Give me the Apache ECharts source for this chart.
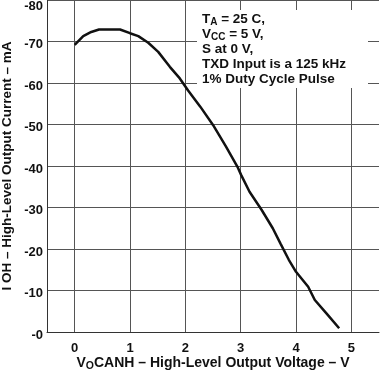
<!DOCTYPE html>
<html><head><meta charset="utf-8">
<script src="https://cdn.jsdelivr.net/npm/echarts@6/dist/echarts.min.js"></script>
<style>html,body{margin:0;padding:0;background:#fff}#c{width:380px;height:371px}</style>
</head><body><div id="c"></div>
<script>
const voltage = [0, 0.155, 0.3, 0.44, 0.82, 1.0, 1.15, 1.33, 1.51, 1.72, 1.9, 2.05, 2.27, 2.5, 2.73, 2.95, 3.01, 3.16, 3.38, 3.58, 3.72, 3.87, 4.0, 4.22, 4.34, 4.55, 4.78];
const current = [-69.2, -71.3, -72.3, -72.9, -72.9, -72.0, -71.3, -69.7, -67.5, -63.9, -61.1, -58.2, -54.3, -49.9, -44.8, -39.6, -37.8, -33.8, -29.4, -25.0, -21.3, -17.4, -14.5, -10.9, -7.7, -4.5, -0.9];
const xTicks = [0, 1, 2, 3, 4, 5];
const noteLines = [
  '{b|T}{s|A}{b| = 25 C,}',
  '{b|V}{s|CC}{b| = 5 V,}',
  '{b|S at 0 V,}',
  '{b|TXD Input is a 125 kHz}',
  '{b|1% Duty Cycle Pulse}'
];
const xTitle = '{b|V}{s|O}{b|CANH – High-Level Output Voltage – V}';
const yTitle = 'I OH – High-Level Output Current – mA';

const font = 'Liberation Sans, Arial, Helvetica, sans-serif';
const labelBase = { fontFamily: font, fontWeight: 'bold', fontSize: 13, color: '#111' };
const chart = echarts.init(document.getElementById('c'));
chart.setOption({
  animation: false,
  grid: { left: 47, right: 1, top: 0, bottom: 39, outerBoundsMode: 'none' },
  graphic: [
    { type: 'rect', left: 197, top: 10, z: 100, shape: { width: 171, height: 78 }, style: { fill: '#fff' } },
    { type: 'text', left: 202, top: 11, z: 101, style: {
        text: noteLines.join('\n'),
        rich: {
          b: { fontFamily: font, fontWeight: 'bold', fontSize: 13.5, fill: '#111', lineHeight: 15 },
          s: { fontFamily: font, fontWeight: 'bold', fontSize: 10, fill: '#111', lineHeight: 15, padding: [6, 0, 0, 0] }
        }
    } }
  ],
  xAxis: {
    type: 'value', min: -0.5, max: 5.5,
    axisLine: { show: true, onZero: false, lineStyle: { color: '#333', width: 1 } },
    axisTick: { show: false, customValues: xTicks },
    axisLabel: Object.assign({ customValues: xTicks, margin: 10 }, labelBase),
    splitLine: { show: true, lineStyle: { color: '#555', width: 1 } },
    name: xTitle, nameLocation: 'middle', nameGap: 23, nameMoveOverlap: false,
    nameTextStyle: {
      rich: {
        b: { fontFamily: font, fontWeight: 'bold', fontSize: 14, color: '#111' },
        s: { fontFamily: font, fontWeight: 'bold', fontSize: 10.5, color: '#111', padding: [6, 0, 0, 0] }
      }
    }
  },
  yAxis: {
    type: 'value', min: -80, max: 0, interval: 10, inverse: true,
    axisLine: { show: true, onZero: false, lineStyle: { color: '#333', width: 1 } },
    axisTick: { show: false },
    axisLabel: Object.assign({ margin: 4,
      formatter: v => (v === 0 ? '{n|-0}' : v === -80 ? '{t|' + v + '}' : '{n|' + v + '}'),
      rich: {
        n: Object.assign({ padding: [6, 0, 0, 0] }, labelBase),
        t: Object.assign({ padding: [12, 0, 0, 0] }, labelBase)
      } }, labelBase),
    splitLine: { show: true, lineStyle: { color: '#555', width: 1 } },
    name: yTitle, nameLocation: 'middle', nameGap: 33, nameMoveOverlap: false,
    nameTextStyle: { fontFamily: font, fontWeight: 'bold', fontSize: 13.5, color: '#111' }
  },
  series: [{
    type: 'line',
    data: voltage.map((v, i) => [v, current[i]]),
    showSymbol: false,
    lineStyle: { color: '#111', width: 2.5 },
    z: 3
  }]
});
</script></body></html>
